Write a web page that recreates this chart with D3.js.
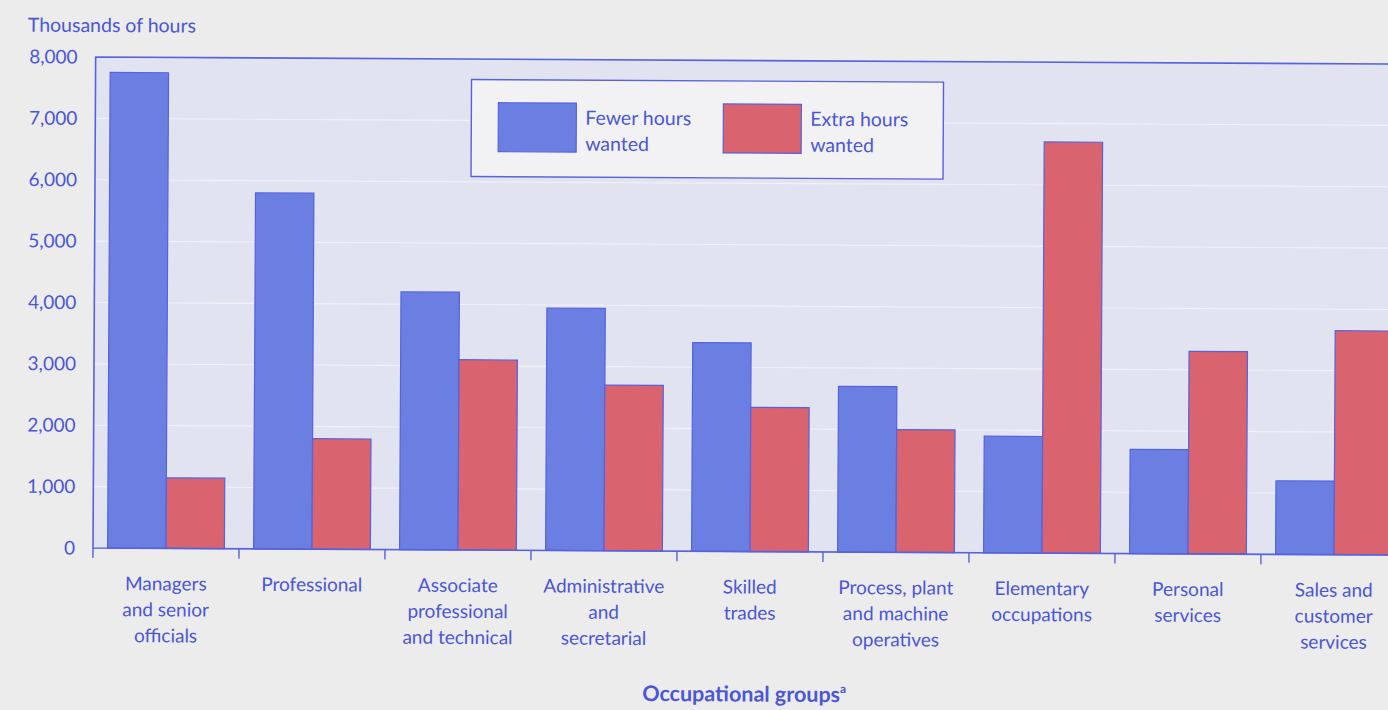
<!DOCTYPE html>
<html>
<head>
<meta charset="utf-8">
<script src="https://cdn.jsdelivr.net/npm/d3@7"></script>
<style>
  html, body { margin: 0; padding: 0; background: #ececed; }
  svg { display: block; }
  text { font-family: Lato, "Open Sans", sans-serif; fill: #4b56d8; }
</style>
</head>
<body>
<svg id="chart" width="1388" height="710"></svg>
<script>
// Occupational groups (multi-line labels)
const categories = [
  ["Managers", "and senior", "officials"],
  ["Professional"],
  ["Associate", "professional", "and technical"],
  ["Administrative", "and", "secretarial"],
  ["Skilled", "trades"],
  ["Process, plant", "and machine", "operatives"],
  ["Elementary", "occupations"],
  ["Personal", "services"],
  ["Sales and", "customer", "services"]
];
const seriesNames = ["Fewer hours wanted", "Extra hours wanted"];
// Thousands of hours
const fewerHours = [7750, 5800, 4200, 3950, 3400, 2700, 1900, 1700, 1200];
const extraHours = [1150, 1800, 3100, 2700, 2350, 2000, 6700, 3300, 3650];
const yTicks = [0, 1000, 2000, 3000, 4000, 5000, 6000, 7000, 8000];

const colors = ["#6b7fe2", "#d9636f"];
const lineColor = "#5662de";

const svg = d3.select("#chart");
const x0 = 93, y0 = 548, yTop = 57, band = 146;

// whole chart sits slightly tilted on the page
const g = svg.append("g").attr("transform", `rotate(0.31, ${x0}, ${y0})`);

const keys = categories.map((c, i) => i);
const x = d3.scaleBand().domain(keys).range([x0, x0 + band * categories.length]).padding(0);
const xs = d3.scaleBand().domain([0, 1]).range([0, x.bandwidth()]).paddingInner(0).paddingOuter(0.25);
const y = d3.scaleLinear().domain([0, 8000]).range([y0, yTop]);

// plot background
g.append("rect")
  .attr("x", x0).attr("y", yTop)
  .attr("width", x.range()[1] - x0).attr("height", y0 - yTop)
  .attr("fill", "#e2e3f1");

// faint gridlines
g.append("g").selectAll("line")
  .data(yTicks.filter(d => d > 0 && d < 8000))
  .join("line")
  .attr("x1", x0).attr("x2", x.range()[1])
  .attr("y1", d => y(d)).attr("y2", d => y(d))
  .attr("stroke", "#f1f1f6").attr("stroke-width", 1.1);

// bars
const data = keys.map(i => [fewerHours[i], extraHours[i]]);
const groups = g.append("g").selectAll("g")
  .data(data).join("g")
  .attr("transform", (d, i) => `translate(${x(i)},0)`);
groups.selectAll("rect")
  .data(d => d.map((v, s) => ({ v, s })))
  .join("rect")
  .attr("x", d => xs(d.s))
  .attr("width", xs.bandwidth())
  .attr("y", d => y(d.v))
  .attr("height", d => y0 - y(d.v))
  .attr("fill", d => colors[d.s])
  .attr("stroke", lineColor).attr("stroke-width", 1.2);

// plot frame (left, top, bottom)
g.append("path")
  .attr("d", `M${x.range()[1]},${yTop}H${x0}V${y0}H${x.range()[1]}`)
  .attr("fill", "none").attr("stroke", lineColor).attr("stroke-width", 1.6);

// category boundary ticks below the baseline
const bounds = keys.map(i => x(i));
g.append("g").selectAll("line")
  .data(bounds).join("line")
  .attr("x1", d => d).attr("x2", d => d)
  .attr("y1", y0).attr("y2", y0 + 10)
  .attr("stroke", lineColor).attr("stroke-width", 1.4);

// y tick labels
const yAxis = d3.axisLeft(y).tickValues(yTicks).tickSize(0).tickPadding(18)
  .tickFormat(d3.format(","));
const ya = g.append("g").attr("transform", `translate(${x0},0)`).call(yAxis);
ya.select(".domain").remove();
ya.selectAll("text").style("font-size", "19px").attr("fill", "#4b56d8")
  .style("font-family", "Lato, 'Open Sans', sans-serif");

// y axis caption
g.append("text").attr("x", 25).attr("y", 32)
  .style("font-size", "19.5px").text("Thousands of hours");

// category labels
const labels = g.append("g").selectAll("text")
  .data(categories).join("text")
  .attr("text-anchor", "middle")
  .attr("transform", (d, i) => `translate(${x(i) + x.bandwidth() / 2},590)`)
  .style("font-size", "19px");
labels.selectAll("tspan")
  .data(d => d).join("tspan")
  .attr("x", 0).attr("y", (d, i) => i * 26)
  .text(d => d);

// axis title with footnote marker
const title = g.append("text").attr("x", 745).attr("y", 698)
  .attr("text-anchor", "middle")
  .style("font-size", "21.5px").style("font-weight", "bold");
title.append("tspan").text("Occupational groups");
title.append("tspan").attr("dy", -9).style("font-size", "12px").text("a");

// legend
const lg = g.append("g");
lg.append("rect").attr("x", 469).attr("y", 77.5).attr("width", 472).attr("height", 97)
  .attr("fill", "#f2f2f5").attr("stroke", lineColor).attr("stroke-width", 1.4);
const legendItems = [
  { s: 0, x: 496, lines: ["Fewer hours", "wanted"] },
  { s: 1, x: 721, lines: ["Extra hours", "wanted"] }
];
legendItems.forEach(it => {
  lg.append("rect").attr("x", it.x).attr("y", 100.5).attr("width", 78).attr("height", 49)
    .attr("fill", colors[it.s]).attr("stroke", lineColor).attr("stroke-width", 1.2);
  const t = lg.append("text").attr("x", it.x + 87).attr("y", 122).style("font-size", "19.5px");
  t.selectAll("tspan").data(it.lines).join("tspan")
    .attr("x", it.x + 87).attr("dy", (d, i) => i === 0 ? 0 : 26).text(d => d);
});
</script>
</body>
</html>
